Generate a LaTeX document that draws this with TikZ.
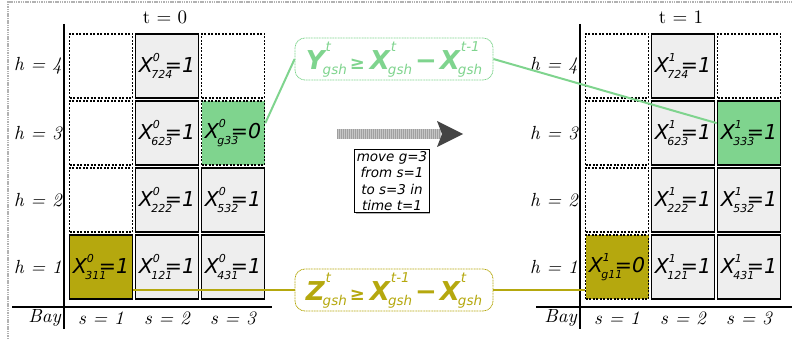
\documentclass[tikz,border=0pt]{standalone}
\usepackage{fontspec}
\setmainfont{lmroman10-regular}[Extension=.otf, ItalicFont=lmroman10-italic, BoldFont=lmroman10-bold]
\usepackage{tikz}
\newfontfamily\djv{DejaVu Sans}
\definecolor{zellgrau}{RGB}{238,238,238}
\definecolor{hellgruen}{RGB}{127,212,142}
\definecolor{oliv}{RGB}{181,168,14}
\definecolor{pfeilgrau}{RGB}{68,68,68}
\usetikzlibrary{shadows}
% Zellvariable X mit Hoch- und Tiefindex
\newcommand{\zx}[3]{X\rlap{\raisebox{11pt}{\fontsize{11}{11}\selectfont #1}}\rlap{\kern-1.5pt\raisebox{-6pt}{\fontsize{11}{11}\selectfont #2}}\kern12pt=#3}
% fette Variable fuer die Ungleichungen
\newcommand{\fv}[3]{{\bfseries #1}\rlap{\kern1pt\raisebox{18pt}{\fontsize{13.5}{13.5}\selectfont #2}}\kern-2pt\raisebox{-5pt}{\fontsize{13.5}{13.5}\selectfont #3}}

\begin{document}
\begin{tikzpicture}[x=1pt, y=-1pt, >=latex,
    zelle/.style={minimum width=63pt, minimum height=64pt, inner sep=0pt, line width=1.6pt,
                  font=\djv\itshape\fontsize{20.5}{22}\selectfont},
    leer/.style={zelle, draw, dash pattern=on 2pt off 1.5pt},
    belegt/.style={zelle, draw, fill=zellgrau},
    formel/.style={draw=#1, text=#1, rounded corners=10pt, dash pattern=on 1pt off 0.6pt, line width=0.8pt,
                   minimum width=198pt, minimum height=42pt, inner sep=2pt,
                   font=\djv\itshape\fontsize{26}{26}\selectfont},
    achse/.style={line width=1.8pt},
    lbl/.style={font=\itshape\fontsize{19}{19}\selectfont, inner sep=0pt},
    font=\fontsize{19}{19}\selectfont]
  \useasboundingbox (0,0) rectangle (792,339);
  % Rahmen
  \draw[gray!60, line width=1.2pt, dash pattern=on 1.5pt off 0.8pt] (8,339) -- (8,2) -- (792,2);

  % Achsen und Beschriftung (links t=0, rechts t=1)
  \foreach \dx/\z/\xa/\xb in {0/0/12/272, 516/1/536/792} {
    \draw[achse] (64+\dx,24) -- (64+\dx,329);
    \draw[achse] (\xa,307) -- (\xb,307);
    \node[inner sep=0pt] (t\z) at (165+\dx,17) {t = \z};
    \node[lbl, anchor=east] (bay\z) at (61+\dx,318) {Bay};
    \foreach \s in {1,2,3}
      \node[lbl] (s\s-\z) at (35+66*\s+\dx,318) {s = \s};
    \foreach \h in {1,...,4}
      \node[lbl, anchor=east] (h\h-\z) at (62+\dx,334-67*\h) {h = \h};
    % leere und belegte Stellplaetze
    \foreach \s/\h in {1/4, 3/4, 1/3, 1/2}
      \node[leer] (c\z-\s\h) at (35+66*\s+\dx,334-67*\h) {};
    \foreach \s/\h/\i in {2/4/724, 2/3/623, 2/2/222, 3/2/532, 2/1/121, 3/1/431}
      \node[belegt] (c\z-\s\h) at (35+66*\s+\dx,334-67*\h) {\zx{\z}{\i}{1}};
  }
  % t=0: Container 3 steht unten links
  \node[leer, fill=hellgruen] (c0-33) at (233,133) {\zx{0}{g33}{0}};
  \node[belegt, fill=oliv] (c0-11) at (101,267) {\zx{0}{311}{1}};
  % t=1: Container 3 steht oben rechts
  \node[belegt, fill=hellgruen] (c1-33) at (749,133) {\zx{1}{333}{1}};
  \node[leer, fill=oliv] (c1-11) at (617,267) {\zx{1}{g11}{0}};

  % Umlagerung
  \fill[gray!45] (337,129) rectangle (441,139);
  \draw[gray!75, line width=10pt, dash pattern=on 1pt off 1pt] (337,134) -- (441,134);
  \fill[pfeilgrau] (437,121) -- (463,134) -- (437,147) -- (442,134) -- cycle;
  \node[draw, fill=white, line width=0.8pt, align=center, inner sep=2pt,
        drop shadow={shadow xshift=1.2pt, shadow yshift=-1.2pt, opacity=0.6},
        font=\djv\itshape\fontsize{13.5}{16.5}\selectfont] (zug) at (392,181)
        {move g=3\\from s=1\\to s=3 in\\time t=1};

  % Ungleichungen
  \node[formel=hellgruen] (ungl-y) at (394,59)
    {\fv{Y}{t}{gsh}\kern3pt{\bfseries\fontsize{18}{18}\selectfont ≥}\kern5pt\fv{X}{t}{gsh}\kern3pt{\bfseries −}\kern3pt\fv{X}{t-1}{gsh}};
  \node[formel=oliv] (ungl-z) at (394,290)
    {\fv{Z}{t}{gsh}\kern3pt{\bfseries\fontsize{18}{18}\selectfont ≥}\kern5pt\fv{X}{t-1}{gsh}\kern3pt{\bfseries −}\kern3pt\fv{X}{t}{gsh}};
  \draw[hellgruen, line width=2pt] (c0-33.17) -- (ungl-y.west);
  \draw[hellgruen, line width=2pt] (ungl-y.east) -- (c1-33.163);
  \draw[oliv, line width=2pt] (ungl-z.west) -- (ungl-z.west -| c0-11.east);
  \draw[oliv, line width=2pt] (ungl-z.east) -- (ungl-z.east -| c1-11.west);
\end{tikzpicture}
\end{document}
